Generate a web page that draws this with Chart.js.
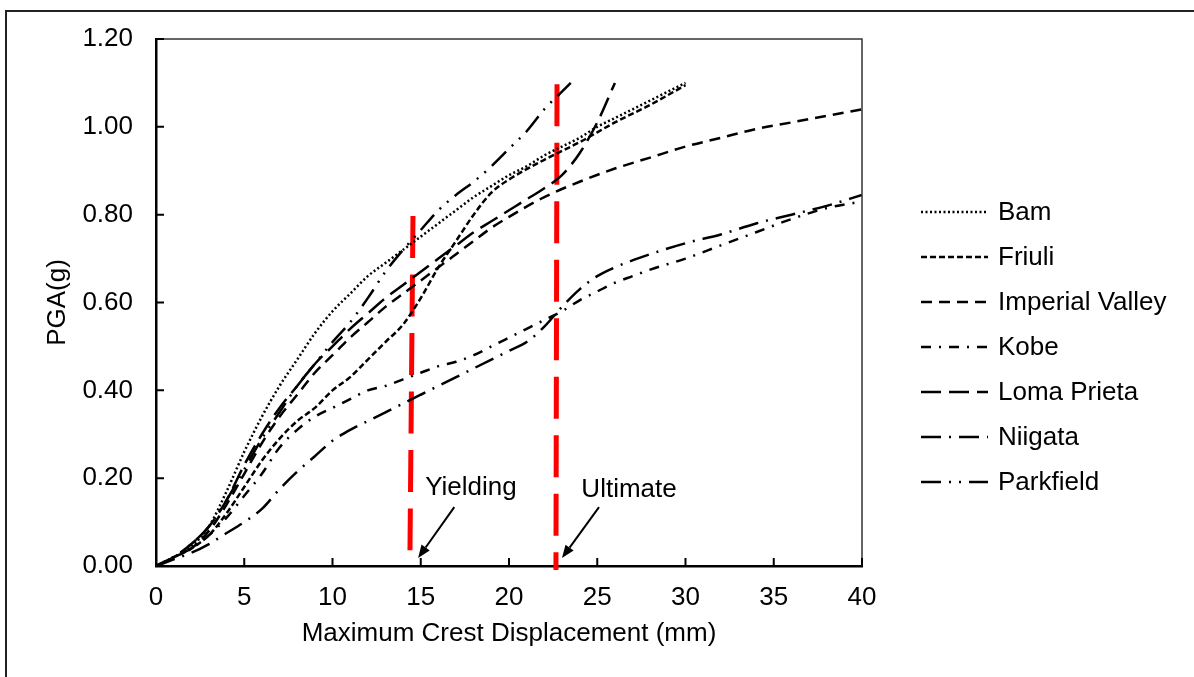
<!DOCTYPE html>
<html>
<head>
<meta charset="utf-8">
<script src="https://cdn.jsdelivr.net/npm/chart.js@4.4.1/dist/chart.umd.min.js"></script>
<style>
  html, body { margin:0; padding:0; background:#fff; overflow:hidden; }
  #wrap { position:relative; width:1194px; height:677px; }
  #frame { position:absolute; left:5px; top:10px; width:1210px; height:700px; border:2px solid #222; box-sizing:border-box; }
  #chart { position:absolute; left:0; top:0; }
  #legend { position:absolute; left:921px; top:189px; font-family:"Liberation Sans", Arial, sans-serif; font-size:26px; color:#000; }
  .legend-item { display:flex; align-items:center; height:45px; white-space:nowrap; }
  .legend-item svg { margin-right:10px; }
</style>
</head>
<body>
<div id="wrap">
  <div id="frame"></div>
  <canvas id="chart" width="1194" height="677"></canvas>
  <div id="legend"></div>
</div>
<script>
// ── DATA ──
var bamX = [0,1,2,3,4,5,6,7,8,9,10,11,12,13,14,15,16,17,18,19,20,21,22,23,24,25,26,27,28,29,30];
var bamY = [0,0.02,0.045,0.09,0.17,0.26,0.34,0.41,0.47,0.53,0.58,0.62,0.66,0.69,0.72,0.75,0.78,0.81,0.84,0.865,0.89,0.91,0.935,0.955,0.975,1.0,1.02,1.04,1.06,1.08,1.10];

var friuliX = [0,1,2,3,4,5,6,7,8,9,10,11,12,13,14,15,16,17,18,19,20,22,24,26,28,30];
var friuliY = [0,0.02,0.04,0.07,0.12,0.18,0.24,0.29,0.33,0.36,0.40,0.43,0.47,0.51,0.55,0.61,0.68,0.74,0.80,0.85,0.88,0.925,0.965,1.01,1.05,1.095];

var imperialX = [0,1,2,3,4,5,6,7,8,9,10,11,12,13,14,15,16,17,18,19,20,22,24,26,28,30,32,34,36,38,40];
var imperialY = [0,0.02,0.04,0.08,0.14,0.21,0.28,0.34,0.39,0.44,0.48,0.52,0.555,0.59,0.62,0.65,0.68,0.71,0.74,0.77,0.795,0.84,0.875,0.905,0.93,0.955,0.975,0.995,1.01,1.025,1.04];

var kobeX = [0,1,2,3,4,5,6,7,8,9,10,11,12,13,14,15,16,17,18,19,20,21,22,23,24,25,26,27,28,30,32,34,36,38,40];
var kobeY = [0,0.02,0.04,0.07,0.11,0.16,0.21,0.27,0.31,0.34,0.36,0.38,0.40,0.41,0.425,0.44,0.455,0.465,0.48,0.50,0.52,0.54,0.56,0.58,0.605,0.625,0.645,0.66,0.675,0.70,0.73,0.76,0.79,0.815,0.83];

var lomaX = [0,1,2,3,4,5,6,7,8,9,10,11,12,13,14,15,16,17,18,19,20,21,22,23,24,25,26];
var lomaY = [0,0.02,0.05,0.09,0.15,0.23,0.30,0.36,0.41,0.46,0.50,0.54,0.575,0.61,0.64,0.67,0.70,0.73,0.76,0.785,0.81,0.835,0.86,0.89,0.94,1.01,1.10];

var niigataX = [0,1,2,3,4,5,6,7,8,9,10,11,12,13,14,15,16,17,18,19,20,21,22,23,24,25,26,28,30,32,34,36,38,40];
var niigataY = [0,0.015,0.03,0.05,0.075,0.10,0.13,0.175,0.215,0.25,0.285,0.31,0.33,0.35,0.37,0.39,0.41,0.43,0.45,0.47,0.49,0.51,0.545,0.59,0.63,0.66,0.68,0.71,0.735,0.755,0.78,0.80,0.82,0.845];

var parkX = [0,1,2,3,4,5,6,7,8,9,10,11,12,13,14,15,16,17,18,19,20,21,22,23,23.5];
var parkY = [0,0.02,0.05,0.09,0.15,0.22,0.29,0.35,0.41,0.46,0.51,0.555,0.61,0.67,0.72,0.765,0.81,0.845,0.875,0.91,0.95,0.99,1.04,1.08,1.10];

var seriesNames = ['Bam','Friuli','Imperial Valley','Kobe','Loma Prieta','Niigata','Parkfield'];
var seriesX = [bamX, friuliX, imperialX, kobeX, lomaX, niigataX, parkX];
var seriesY = [bamY, friuliY, imperialY, kobeY, lomaY, niigataY, parkY];
var seriesDash = [[2,2.5],[6,3],[11,7],[10,8,2,8],[20,8],[20,8,2,8],[20,8,2,8,2,8]];

// red marker lines (top point first so dashes start at the top)
var yieldLineX = [14.56, 14.39];
var yieldLineY = [0.797, 0.036];
var ultLineX = [22.72, 22.66];
var ultLineY = [1.097, -0.009];

// annotations
var noteText = ['Yielding', 'Ultimate'];
var noteAt = [[15.25, 0.178], [24.1, 0.173]];
var arrowFrom = [[16.9, 0.134], [25.1, 0.134]];
var arrowTo = [[14.85, 0.018], [23.0, 0.018]];

var xTicks = [0,5,10,15,20,25,30,35,40];
var yTicks = [0,0.2,0.4,0.6,0.8,1.0,1.2];

var FONT = '"Liberation Sans", Arial, sans-serif';

function pts(xs, ys) { return xs.map(function(x, i){ return { x:x, y:ys[i] }; }); }

var datasets = seriesNames.map(function(n, i) {
  return { label:n, data:pts(seriesX[i], seriesY[i]), borderColor:'#000', borderWidth:2.5,
           borderDash:seriesDash[i], pointRadius:0, fill:false, cubicInterpolationMode:'monotone' };
});
datasets.push({ label:'yield', data:pts(yieldLineX, yieldLineY), borderColor:'#ff0000', borderWidth:5, borderDash:[42,16.5], pointRadius:0, clip:false });
datasets.push({ label:'ult', data:pts(ultLineX, ultLineY), borderColor:'#ff0000', borderWidth:5, borderDash:[42,16.5], pointRadius:0, clip:false });

// frame, inside ticks, arrows and notes
var extrasPlugin = {
  id: 'extras',
  afterDraw: function(chart) {
    var ctx = chart.ctx, a = chart.chartArea, xs = chart.scales.x, ys = chart.scales.y;
    ctx.save();
    ctx.strokeStyle = '#333'; ctx.lineWidth = 1.5;
    ctx.beginPath();
    ctx.moveTo(a.left, a.top); ctx.lineTo(a.right, a.top); ctx.lineTo(a.right, a.bottom);
    ctx.stroke();
    ctx.strokeStyle = '#000'; ctx.lineWidth = 2;
    ctx.beginPath();
    yTicks.forEach(function(v){ var p = ys.getPixelForValue(v); ctx.moveTo(a.left, p); ctx.lineTo(a.left + 8, p); });
    xTicks.forEach(function(v){ var p = xs.getPixelForValue(v); ctx.moveTo(p, a.bottom); ctx.lineTo(p, a.bottom - 8); });
    ctx.stroke();

    arrowFrom.forEach(function(f, i) {
      var x1 = xs.getPixelForValue(f[0]), y1 = ys.getPixelForValue(f[1]);
      var x2 = xs.getPixelForValue(arrowTo[i][0]), y2 = ys.getPixelForValue(arrowTo[i][1]);
      var ang = Math.atan2(y2 - y1, x2 - x1), hl = 13, hw = 5;
      var bx = x2 - hl * Math.cos(ang), by = y2 - hl * Math.sin(ang);
      ctx.strokeStyle = '#000'; ctx.lineWidth = 2;
      ctx.beginPath(); ctx.moveTo(x1, y1); ctx.lineTo(bx, by); ctx.stroke();
      ctx.fillStyle = '#000';
      ctx.beginPath();
      ctx.moveTo(x2, y2);
      ctx.lineTo(bx + hw * Math.sin(ang), by - hw * Math.cos(ang));
      ctx.lineTo(bx - hw * Math.sin(ang), by + hw * Math.cos(ang));
      ctx.closePath(); ctx.fill();
    });

    ctx.fillStyle = '#000';
    ctx.font = '26px ' + FONT;
    ctx.textAlign = 'left'; ctx.textBaseline = 'middle';
    noteText.forEach(function(t, i) {
      ctx.fillText(t, xs.getPixelForValue(noteAt[i][0]), ys.getPixelForValue(noteAt[i][1]));
    });
    ctx.restore();
  }
};

new Chart(document.getElementById('chart').getContext('2d'), {
  type: 'line',
  data: { datasets: datasets },
  options: {
    responsive: false, animation: false, devicePixelRatio: 1,
    layout: { padding: { top:39, right:332, bottom:0, left:0 } },
    plugins: { legend: { display:false }, tooltip: { enabled:false } },
    scales: {
      x: {
        type: 'linear', min: 0, max: 40,
        afterBuildTicks: function(s){ s.ticks = xTicks.map(function(v){ return { value:v }; }); },
        afterFit: function(s){ s.height = 111; },
        grid: { display:false, drawTicks:false },
        border: { display:true, color:'#000', width:2.5 },
        ticks: { padding:16, color:'#000', font:{ family:FONT, size:26 }, maxRotation:0,
                 callback: function(v){ return String(v); } },
        title: { display:true, text:'Maximum Crest Displacement (mm)', color:'#000',
                 font:{ family:FONT, size:26 }, padding:{ top:0, bottom:28 } }
      },
      y: {
        type: 'linear', min: 0, max: 1.2,
        afterBuildTicks: function(s){ s.ticks = yTicks.map(function(v){ return { value:v }; }); },
        afterFit: function(s){ s.width = 156; },
        grid: { display:false, drawTicks:false },
        border: { display:true, color:'#000', width:2.5 },
        ticks: { padding:23, color:'#000', font:{ family:FONT, size:26 },
                 callback: function(v){ return Number(v).toFixed(2); } },
        title: { display:true, text:'PGA(g)', color:'#000',
                 font:{ family:FONT, size:26 }, padding:{ top:42, bottom:0 } }
      }
    }
  },
  plugins: [extrasPlugin]
});

// ── HTML legend with dashed samples ──
var legEl = document.getElementById('legend');
legEl.innerHTML = seriesNames.map(function(n, i) {
  return '<div class="legend-item"><svg width="67" height="6"><line x1="0" y1="3" x2="67" y2="3" stroke="#000" stroke-width="2.5" stroke-dasharray="' +
    seriesDash[i].join(',') + '"/></svg><span>' + n + '</span></div>';
}).join('');
</script>
</body>
</html>
